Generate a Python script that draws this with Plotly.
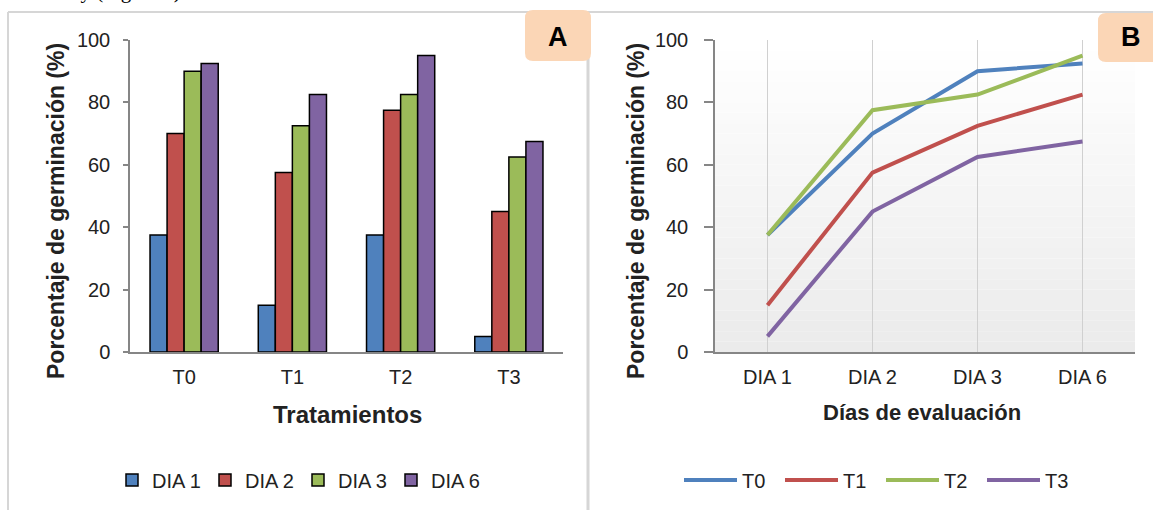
import plotly.graph_objects as go

W, H = 1153, 510


def px(x):
    return x / W


def py(y):
    return 1 - y / H


# ---------------- data ----------------
tratamientos = ["T0", "T1", "T2", "T3"]
dias = ["DIA 1", "DIA 2", "DIA 3", "DIA 6"]

dia1 = [37.5, 15.0, 37.5, 5.0]
dia2 = [70.0, 57.5, 77.5, 45.0]
dia3 = [90.0, 72.5, 82.5, 62.5]
dia6 = [92.5, 82.5, 95.0, 67.5]

t0 = [37.5, 70.0, 90.0, 92.5]
t1 = [15.0, 57.5, 72.5, 82.5]
t2 = [37.5, 77.5, 82.5, 95.0]
t3 = [5.0, 45.0, 62.5, 67.5]

bar_series = [dia1, dia2, dia3, dia6]
line_series = [t0, t1, t2, t3]

colors = ["#4F81BD", "#C0504D", "#9BBB59", "#8064A2"]

FONT = "Liberation Sans, Arial, sans-serif"
TXT = "#222222"
AX = "#868686"

fig = go.Figure()

for name, vals, c in zip(dias, bar_series, colors):
    fig.add_trace(go.Bar(
        x=tratamientos, y=vals, name=name,
        marker=dict(color=c, line=dict(color="#000000", width=1.5)),
        xaxis="x", yaxis="y", legend="legend",
    ))

for name, vals, c in zip(tratamientos, line_series, colors):
    fig.add_trace(go.Scatter(
        x=dias, y=vals, name=name, mode="lines",
        line=dict(color=c, width=4),
        xaxis="x2", yaxis="y2", legend="legend2",
    ))

shapes = []
# gradient plot background for panel B
N = 30
for i in range(N):
    t = i / (N - 1)
    v = int(round(0xEB + (0xFF - 0xEB) * t))
    shapes.append(dict(type="rect", xref="x2 domain", yref="y2 domain",
                       x0=0, x1=1, y0=i / N, y1=(i + 1) / N,
                       fillcolor=f"rgb({v},{v},{v})", line=dict(width=0),
                       layer="below"))

# frame lines
fr = "#D6D6D6"
shapes += [
    dict(type="line", xref="paper", yref="paper", x0=px(8), x1=1.0,
         y0=py(12), y1=py(12), line=dict(color=fr, width=2)),
    dict(type="line", xref="paper", yref="paper", x0=px(8), x1=px(8),
         y0=py(12), y1=0, line=dict(color=fr, width=2)),
    dict(type="line", xref="paper", yref="paper", x0=px(588), x1=px(588),
         y0=py(12), y1=0, line=dict(color=fr, width=3)),
]


def rounded(x0, y0, x1, y1, r):
    rx, ry = r / W, r / H
    X0, X1 = px(x0), px(x1)
    Y0, Y1 = py(y1), py(y0)  # bottom, top in paper
    return (f"M{X0+rx},{Y1} L{X1-rx},{Y1} Q{X1},{Y1} {X1},{Y1-ry} "
            f"L{X1},{Y0+ry} Q{X1},{Y0} {X1-rx},{Y0} L{X0+rx},{Y0} "
            f"Q{X0},{Y0} {X0},{Y0+ry} L{X0},{Y1-ry} Q{X0},{Y1} {X0+rx},{Y1} Z")


box = "#FBD6B6"
shapes.append(dict(type="path", xref="paper", yref="paper",
                   path=rounded(525, 10, 591, 61, 8), fillcolor=box,
                   line=dict(width=0)))
shapes.append(dict(type="path", xref="paper", yref="paper",
                   path=rounded(1098, 13, 1165, 62, 8), fillcolor=box,
                   line=dict(width=0)))


def ann(text, x, y, size, color=TXT, angle=0, family=FONT, xa="center"):
    return dict(text=text, x=px(x), y=py(y), xref="paper", yref="paper",
                xanchor=xa, yanchor="middle", textangle=angle,
                showarrow=False, font=dict(family=family, size=size,
                                           color=color))


annotations = [
    ann("<b>A</b>", 558, 37, 27, "#000"),
    ann("<b>B</b>", 1131, 37, 27, "#000"),
    ann("<b>Porcentaje de germinación (%)</b>", 56, 211, 23, angle=-90),
    ann("<b>Porcentaje de germinación (%)</b>", 636, 211, 23, angle=-90),
    ann("<b>Tratamientos</b>", 347, 414, 24),
    ann("<b>Días de evaluación</b>", 922, 412, 22),
    ann("ancia y (Figura 8).", 188, -9, 21, "#000",
        family="Liberation Serif, Times New Roman, serif", xa="right"),
]

fig.update_layout(
    width=W, height=H,
    margin=dict(l=0, r=0, t=0, b=0, pad=0, autoexpand=False),
    paper_bgcolor="white", plot_bgcolor="rgba(0,0,0,0)",
    font=dict(family=FONT, size=20, color=TXT),
    barmode="group", bargap=0.37, bargroupgap=0.0,
    shapes=shapes, annotations=annotations,
    xaxis=dict(domain=[px(130), px(563)], anchor="y", type="category",
               range=[-0.5, 3.5],
               showline=True, linecolor=AX, linewidth=1.5, ticks="",
               showgrid=False, tickfont=dict(size=20, color=TXT),
               ticklabelstandoff=6, automargin=False, fixedrange=True),
    yaxis=dict(domain=[py(352), py(40)], anchor="x", range=[0, 100],
               tick0=0, dtick=20, showline=True, linecolor=AX, linewidth=1.5,
               ticks="outside", ticklen=5, tickcolor=AX, tickwidth=1.5,
               showgrid=False, zeroline=False, automargin=False,
               tickfont=dict(size=20, color=TXT), ticklabelstandoff=9),
    xaxis2=dict(domain=[px(715), px(1135)], anchor="y2", type="category",
                range=[-0.5, 3.5],
                showline=True, linecolor=AX, linewidth=1.5, ticks="",
                showgrid=True, gridcolor="#D0D0D0", gridwidth=1,
                automargin=False,
                tickfont=dict(size=20, color=TXT), ticklabelstandoff=6),
    yaxis2=dict(domain=[py(352), py(40)], anchor="x2", range=[0, 100],
                tick0=0, dtick=20, showline=True, linecolor=AX, linewidth=1.5,
                ticks="outside", ticklen=9, tickcolor=AX, tickwidth=1.5,
                showgrid=False, zeroline=False, automargin=False,
                tickfont=dict(size=20, color=TXT), ticklabelstandoff=12),
    legend=dict(orientation="h", x=px(112), xanchor="left", y=py(480),
                yanchor="middle", font=dict(size=20, color=TXT),
                bgcolor="rgba(0,0,0,0)",
                entrywidth=48, entrywidthmode="pixels"),
    legend2=dict(orientation="h", x=px(679), xanchor="left", y=py(480),
                 yanchor="middle", font=dict(size=20, color=TXT),
                 bgcolor="rgba(0,0,0,0)", itemwidth=53,
                 entrywidth=33, entrywidthmode="pixels"),
    showlegend=True,
)

fig.write_html("out.html",
               config={"displayModeBar": False},
               post_script="document.body.style.margin='0';"
                           "document.body.style.overflow='hidden';")
